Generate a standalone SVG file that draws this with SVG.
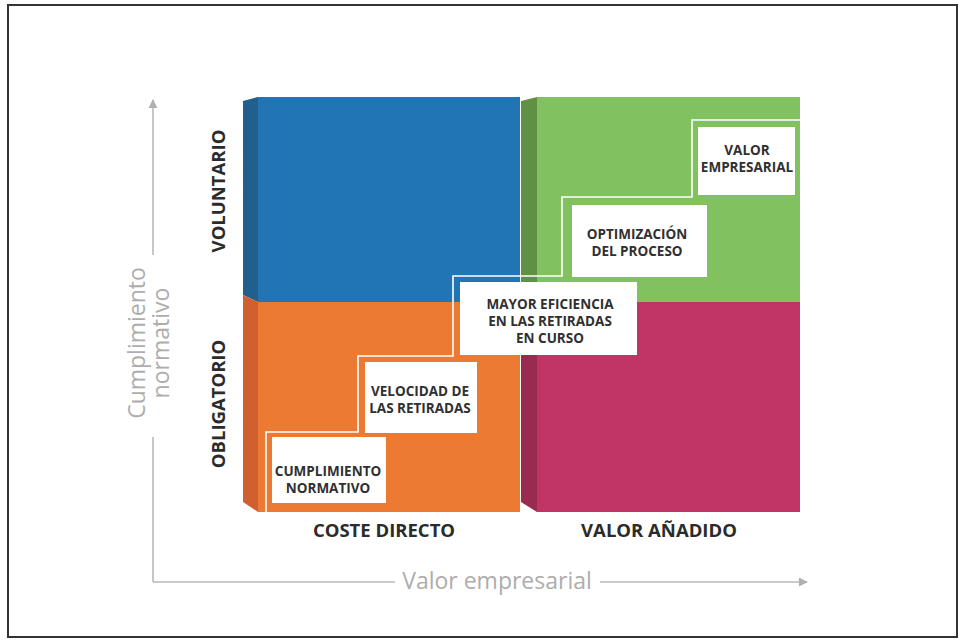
<svg xmlns="http://www.w3.org/2000/svg" width="962" height="641" viewBox="0 0 962 641">
<defs>
<style>
.box{fill:#ffffff;}
.bt{font-family:"Open Sans","Liberation Sans",sans-serif;font-weight:700;font-size:13.5px;fill:#303030;text-anchor:middle;}
.cat{font-family:"Open Sans","Liberation Sans",sans-serif;font-weight:700;font-size:18.5px;fill:#2b2b2b;text-anchor:middle;}
.ax{font-family:"Open Sans","Liberation Sans",sans-serif;font-weight:400;font-size:23px;fill:#adadad;text-anchor:middle;}
.axl{stroke:#b8b8b8;stroke-width:1.6;fill:none;}
.step{stroke:#ffffff;stroke-width:1.6;fill:none;}
</style>
<marker id="arr" viewBox="0 0 10 10" refX="9" refY="5" markerWidth="9" markerHeight="9" markerUnits="userSpaceOnUse" orient="auto">
<path d="M0,0 L10,5 L0,10 z" fill="#b0b0b0"/>
</marker>
</defs>
<rect x="0" y="0" width="962" height="641" fill="#ffffff"/>
<rect x="8" y="5" width="949" height="632" fill="none" stroke="#333333" stroke-width="2"/>

<g id="quadrant-voluntario-coste">
<polygon points="243,101 258,97 258,302 243,295" fill="#215f8c"/>
<rect x="258" y="97" width="262" height="205" fill="#2275b5"/>
</g>
<g id="quadrant-obligatorio-coste">
<polygon points="243,295 258,302 258,512 243,502" fill="#d0602f"/>
<rect x="258" y="302" width="262" height="210" fill="#ec7a33"/>
</g>
<g id="quadrant-voluntario-valor">
<polygon points="521,101 537,97 537,302 521,295" fill="#5f9046"/>
<rect x="537" y="97" width="263" height="205" fill="#82c160"/>
</g>
<g id="quadrant-obligatorio-valor">
<polygon points="521,295 537,302 537,512 521,502" fill="#992a50"/>
<rect x="537" y="302" width="263" height="210" fill="#c03566"/>
</g>

<g id="connectors">
<path class="step" d="M266,512 V432 H358 V356 H453 V276 H562 V197 H692 V120 H800"/>
<path class="axl" d="M153,582 V437"/>
<path class="axl" d="M153,255 V100" marker-end="url(#arr)"/>
<path class="axl" d="M153,582 H395"/>
<path class="axl" d="M600,582 H807" marker-end="url(#arr)"/>
</g>

<g id="node-cumplimiento">
<rect class="box" x="272" y="437" width="114" height="66"/>
<text class="bt"><tspan x="328" y="476">CUMPLIMIENTO</tspan><tspan x="328" y="493">NORMATIVO</tspan></text>
</g>
<g id="node-velocidad">
<rect class="box" x="365" y="362" width="112" height="71"/>
<text class="bt"><tspan x="420" y="396">VELOCIDAD DE</tspan><tspan x="420" y="413">LAS RETIRADAS</tspan></text>
</g>
<g id="node-eficiencia">
<rect class="box" x="460" y="282" width="177" height="73"/>
<text class="bt"><tspan x="550" y="309">MAYOR EFICIENCIA</tspan><tspan x="550" y="326">EN LAS RETIRADAS</tspan><tspan x="550" y="343">EN CURSO</tspan></text>
</g>
<g id="node-optimizacion">
<rect class="box" x="572" y="205" width="135" height="72"/>
<text class="bt"><tspan x="637" y="239">OPTIMIZACIÓN</tspan><tspan x="637" y="256">DEL PROCESO</tspan></text>
</g>
<g id="node-valor-empresarial">
<rect class="box" x="698" y="127" width="97" height="68"/>
<text class="bt"><tspan x="747" y="155">VALOR</tspan><tspan x="747" y="172">EMPRESARIAL</tspan></text>
</g>

<g id="labels">
<text class="cat" transform="translate(225,191) rotate(-90)">VOLUNTARIO</text>
<text class="cat" transform="translate(225,404) rotate(-90)">OBLIGATORIO</text>
<text class="cat" x="384" y="537">COSTE DIRECTO</text>
<text class="cat" x="659" y="537">VALOR AÑADIDO</text>
<text class="ax" transform="translate(0,343) rotate(-90)"><tspan x="0" y="145">Cumplimiento</tspan><tspan x="0" y="169">normativo</tspan></text>
<text class="ax" x="497" y="589">Valor empresarial</text>
</g>
</svg>
